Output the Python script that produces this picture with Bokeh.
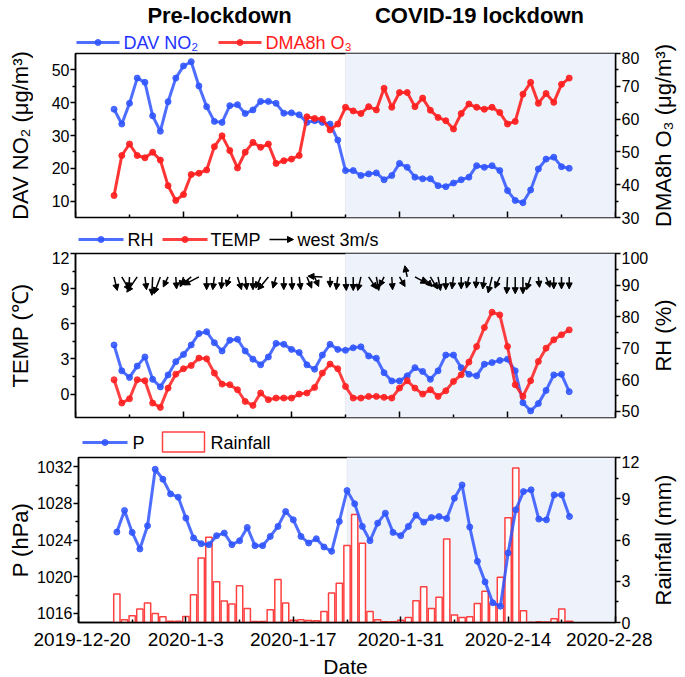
import math
from bokeh.plotting import figure
from bokeh.models import (Range1d, LinearAxis, FixedTicker, BoxAnnotation, Arrow, NormalHead,
                          ColumnDataSource)
from bokeh.core.properties import value
from bokeh.layouts import column, row
from bokeh.embed import file_html
from bokeh.resources import INLINE

FONT = "Liberation Sans"
BLUE = "#2f55ff"
RED = "#ff1f1f"
SHADE = "#eef2fb"

# ---------------- data ----------------
# x axis: days since 2019-12-20
tick_days = [0, 14, 28, 42, 56, 70]
minor_days = [7, 21, 35, 49, 63]
tick_labels = ["2019-12-20", "2020-1-3", "2020-1-17", "2020-1-31", "2020-2-14", "2020-2-28"]
lockdown_start = 35          # 2020-1-24
days = list(range(5, 65))    # 2019-12-25 ... 2020-2-22 (daily)

no2 = [38.0, 33.5, 39.8, 47.5, 46.2, 36.0, 31.3, 40.3, 47.5, 51.2, 52.5, 45.1, 38.8, 34.3, 34.0,
       39.1, 39.4, 36.7, 37.8, 40.4, 40.4, 39.8, 36.8, 36.9, 36.3, 34.0, 34.5, 34.0, 33.5, 28.6,
       19.3, 19.3, 17.8, 18.3, 18.6, 16.5, 17.8, 21.5, 20.3, 17.3, 16.8, 16.8, 14.7, 14.4, 15.5,
       16.5, 17.3, 20.8, 20.3, 20.8, 19.3, 13.2, 10.2, 9.5, 13.4, 19.8, 22.8, 23.4, 20.5, 20.0]
o3 = [36.7, 48.9, 52.4, 48.9, 48.2, 49.9, 47.5, 39.7, 35.2, 37.0, 43.1, 43.5, 44.5, 51.6, 54.9,
      50.4, 45.1, 49.9, 52.9, 51.4, 52.4, 46.5, 47.3, 47.8, 48.9, 60.7, 60.2, 60.0, 56.7, 58.5,
      63.6, 62.5, 61.7, 63.8, 62.8, 69.4, 63.6, 68.1, 68.1, 63.8, 66.4, 62.7, 60.5, 59.5, 57.0,
      61.7, 64.6, 63.6, 63.0, 63.6, 62.0, 58.5, 59.3, 67.6, 71.2, 64.8, 67.8, 65.1, 70.6, 72.5]
rh = [71.0, 62.8, 60.7, 64.3, 67.2, 60.1, 57.7, 61.5, 65.7, 68.0, 71.0, 74.6, 75.2, 71.7, 69.1,
      72.5, 72.8, 69.1, 66.5, 64.7, 67.2, 71.5, 71.2, 69.6, 68.6, 64.7, 63.3, 67.8, 71.2, 69.6,
      69.3, 70.1, 70.4, 67.5, 66.8, 62.2, 59.6, 59.6, 61.2, 63.8, 62.6, 60.1, 62.8, 67.8, 67.8,
      63.8, 61.7, 61.2, 64.9, 65.4, 66.1, 66.5, 62.8, 52.7, 50.1, 52.4, 56.6, 61.5, 61.7, 56.2]
temp = [1.22, -0.77, -0.40, 1.22, 1.14, -0.77, -1.14, 0.51, 1.70, 2.16, 2.44, 3.07, 3.01, 1.79, 0.85,
        0.80, 0.37, -0.63, -0.97, 0.09, -0.48, -0.34, -0.34, -0.34, 0.00, 0.09, 0.57, 1.79, 2.56, 2.16,
        0.65, -0.34, -0.34, -0.20, -0.20, -0.28, -0.34, 0.51, 1.14, 0.51, 0.00, 0.37, -0.20, 0.28, 1.08,
        1.65, 2.73, 4.06, 5.68, 6.99, 6.76, 4.06, 0.80, -0.20, 1.14, 2.78, 3.92, 4.63, 5.06, 5.48]
# wind components (m/s): u > 0 toward east, v > 0 toward north
wind_u = [0.4, 1.0, -0.1, -1.3, 0.2, -0.1, -0.8, -0.6, 0.1, -0.4, -1.25, -1.9, 0.0, -0.2, -0.1,
          -0.45, 0.5, 0.2, 0.0, -0.6, -1.3, -0.4, 0.0, 0.1, 0.2, 0.6, 0.5, -1.8, 0.0, -0.2,
          0.1, 0.0, -0.4, 1.0, 0.3, -0.6, 0.1, 0.7, -0.3, 1.5, 1.2, 0.9, 0.3, 0.0, -0.2,
          0.0, -0.3, -0.1, -0.2, -0.5, -0.6, -0.1, 0.0, 0.0, -0.5, 0.15, 0.5, 0.0, 0.0, 0.0]
wind_v = [-1.7, -1.7, -1.5, -1.9, -1.6, -2.3, -2.1, -1.25, -1.5, -1.25, -1.0, -1.0, -1.6, -1.6, -1.5,
          -1.2, -1.6, -1.6, -1.6, -1.4, -1.6, -1.4, -1.6, -1.6, -1.6, -1.4, -1.2, 0.1, -1.3, -1.6,
          -1.7, -1.7, -1.7, -1.5, -1.7, -1.2, -1.6, -1.2, 1.4, -0.8, -1.2, -1.5, -1.7, -1.6, -1.5,
          -1.5, -1.4, -1.4, -1.5, -2.0, -1.4, -2.1, -2.1, -2.1, -1.6, -1.3, -1.3, -1.5, -1.5, -1.5]
legend_wind_speed = 3.0      # "west 3m/s" reference arrow
pres = [1024.87, 1027.22, 1024.83, 1023.02, 1025.55, 1031.72, 1030.63, 1029.03, 1028.67, 1026.39,
        1024.22, 1023.60, 1023.49, 1024.47, 1024.76, 1023.49, 1023.92, 1025.37, 1023.38, 1023.38,
        1024.39, 1025.48, 1027.11, 1026.20, 1024.39, 1023.67, 1024.14, 1023.24, 1022.76, 1026.02,
        1029.39, 1027.95, 1025.48, 1023.92, 1025.84, 1026.93, 1024.83, 1024.47, 1025.48, 1026.71,
        1025.95, 1026.45, 1026.56, 1026.34, 1028.56, 1030.01, 1025.41, 1021.67, 1019.43, 1017.15,
        1016.78, 1022.59, 1027.29, 1029.28, 1029.47, 1026.28, 1026.20, 1028.92, 1028.92, 1026.56]
rain = [2.07, 0.20, 0.49, 0.98, 1.41, 0.66, 0.42, 0.10, 0.10, 0.44, 2.02, 4.70, 6.20, 2.97, 1.56,
        1.34, 2.68, 1.02, 0.07, 0.07, 0.92, 3.12, 1.41, 0.17, 0.20, 0.15, 0.12, 0.80, 2.15, 2.85,
        5.60, 7.86, 5.77, 0.80, 0.20, 0.05, 0.06, 0.17, 0.37, 1.58, 2.60, 1.02, 1.83, 6.08, 0.54,
        0.37, 0.42, 1.39, 2.27, 1.34, 3.29, 7.62, 11.24, 0.85, 0.02, 0.06, 0.03, 0.27, 0.98, 0.10]

# ---------------- layout constants (pixels) ----------------
FW = 540            # plot frame width
BL, BR = 42, 37     # left / right borders of the panels (tick marks + tick labels)
LW, RW = 33, 33     # side columns holding the rotated axis titles
MW = BL + FW + BR   # middle column width (619)
H0, H1, HS1, H2, HS2, H3, HS3 = 51, 174, 26, 168, 36, 199, 23
TOTAL_H = H0 + H1 + HS1 + H2 + HS2 + H3 + HS3   # 677
x_range = Range1d(0, 70)


def no_align(p):
    try:
        p.frame_align = False
    except Exception:
        pass
    return p


def blank(w, h, bl=0, br=0):
    s = figure(width=w, height=h, x_range=Range1d(0, w - bl - br), y_range=Range1d(0, h),
               output_backend="svg", toolbar_location=None,
               min_border_left=bl, min_border_right=br, min_border_top=0, min_border_bottom=0,
               x_axis_location=None, y_axis_location=None, outline_line_color=None)
    s.xgrid.visible = False
    s.ygrid.visible = False
    return no_align(s)


def txt(s, x, y, t, color="black", size="18px", bold=False, align="left", angle=0.0):
    s.text(x=[x], y=[y], text=[t], text_font=value(FONT), text_font_size=value(size),
           text_font_style="bold" if bold else "normal", text_color=color,
           text_align=align, text_baseline="middle", angle=angle)


def line_swatch(s, x0, x1, y, color):
    s.line([x0, x1], [y, y], line_color=color, line_width=3, line_alpha=0.85)
    s.scatter([(x0 + x1) / 2], [y], size=6, fill_color=color, line_color=color, alpha=0.85)


def style_axis(ax, tick_size="16px"):
    ax.axis_line_color = "black"
    ax.axis_line_width = 1.5
    ax.major_tick_line_color = "black"
    ax.major_tick_line_width = 1.5
    ax.minor_tick_line_color = "black"
    ax.minor_tick_line_width = 1.5
    ax.major_label_text_font = FONT
    ax.major_label_text_font_size = tick_size
    ax.major_label_text_color = "black"


def style_y(ax, ticks, minor):
    ax.ticker = FixedTicker(ticks=ticks, minor_ticks=minor)
    style_axis(ax)
    ax.major_tick_out = 5
    ax.major_tick_in = 0
    ax.minor_tick_out = 3
    ax.minor_tick_in = 0
    ax.major_label_standoff = 1


def make_panel(h, bottom, yr, show_x):
    p = figure(width=MW, height=h, x_range=x_range, y_range=yr,
               output_backend="svg", toolbar_location=None,
               min_border_left=BL, min_border_right=BR, min_border_top=2,
               min_border_bottom=bottom,
               x_axis_location="below" if show_x else None)
    no_align(p)
    p.xgrid.visible = False
    p.ygrid.visible = False
    p.outline_line_color = "black"
    p.outline_line_width = 1.5
    p.outline_line_alpha = 1
    p.add_layout(BoxAnnotation(left=lockdown_start, fill_color=SHADE, fill_alpha=1,
                               line_color="#cdd0da", line_width=1, level="underlay"))
    if show_x:
        ax = p.xaxis[0]
        ax.ticker = FixedTicker(ticks=tick_days, minor_ticks=minor_days)
        ax.major_label_overrides = {d: s for d, s in zip(tick_days, tick_labels)}
        style_axis(ax, tick_size="19px")
        ax.major_tick_in = 6
        ax.major_tick_out = 0
        ax.minor_tick_in = 3
        ax.minor_tick_out = 0
        ax.major_label_standoff = 10
    else:
        # inward tick marks on the bottom edge (same ticker positions as the date axis)
        ylo, yhi = yr.start, yr.end
        unit = (yhi - ylo) / 164.0
        p.segment(x0=tick_days, x1=tick_days, y0=[ylo] * len(tick_days),
                  y1=[ylo + 6 * unit] * len(tick_days), line_color="black", line_width=1.5)
        p.segment(x0=minor_days, x1=minor_days, y0=[ylo] * len(minor_days),
                  y1=[ylo + 3 * unit] * len(minor_days), line_color="black", line_width=1.5)
    return p


# ---------------- panel 1: NO2 / O3 ----------------
p1 = make_panel(H1, 8, Range1d(5, 55), False)
p1.extra_y_ranges = {"o3": Range1d(30, 80)}
style_y(p1.yaxis[0], [10, 20, 30, 40, 50], [15, 25, 35, 45])
r1 = LinearAxis(y_range_name="o3")
style_y(r1, [30, 40, 50, 60, 70, 80], [35, 45, 55, 65, 75])
p1.add_layout(r1, "right")
p1.line(days, no2, line_color=BLUE, line_width=3, line_alpha=0.85)
p1.scatter(days, no2, size=6, fill_color=BLUE, line_color=BLUE, alpha=0.85)
p1.line(days, o3, line_color=RED, line_width=3, line_alpha=0.9, y_range_name="o3")
p1.scatter(days, o3, size=6, fill_color=RED, line_color=RED, alpha=0.9, y_range_name="o3")

# ---------------- panel 2: TEMP / RH / wind ----------------
p2 = make_panel(H2, 2, Range1d(-2, 12), False)
p2.extra_y_ranges = {"rh": Range1d(48, 100)}
style_y(p2.yaxis[0], [0, 3, 6, 9, 12], [1.5, 4.5, 7.5, 10.5])
r2 = LinearAxis(y_range_name="rh")
style_y(r2, [50, 60, 70, 80, 90, 100], [55, 65, 75, 85, 95])
p2.add_layout(r2, "right")
p2.line(days, rh, line_color=BLUE, line_width=3, line_alpha=0.85, y_range_name="rh")
p2.scatter(days, rh, size=6, fill_color=BLUE, line_color=BLUE, alpha=0.85, y_range_name="rh")
p2.line(days, temp, line_color=RED, line_width=3, line_alpha=0.85)
p2.scatter(days, temp, size=6, fill_color=RED, line_color=RED, alpha=0.85)

# wind vectors: tails at TEMP = 10, 8 px per m/s
px_day = FW / 70.0
px_temp = 164 / 14.0
px_ms = 8.0
y_tail = 10.0
wsrc = ColumnDataSource(dict(
    x0=days, y0=[y_tail] * len(days),
    x1=[d + u * px_ms / px_day for d, u in zip(days, wind_u)],
    y1=[y_tail + v * px_ms / px_temp for v in wind_v]))
p2.add_layout(Arrow(end=NormalHead(size=6, fill_color="black", line_color="black", line_width=1),
                    x_start="x0", y_start="y0", x_end="x1", y_end="y1", source=wsrc,
                    line_color="black", line_width=1.5))

# ---------------- panel 3: P / Rainfall ----------------
p3 = make_panel(H3, 32, Range1d(1015, 1033), True)
p3.extra_y_ranges = {"rain": Range1d(0, 12)}
style_y(p3.yaxis[0], [1016, 1020, 1024, 1028, 1032], [1018, 1022, 1026, 1030])
r3 = LinearAxis(y_range_name="rain")
style_y(r3, [0, 3, 6, 9, 12], [1.5, 4.5, 7.5, 10.5])
p3.add_layout(r3, "right")
p3.vbar(x=days, top=rain, bottom=0, width=0.82, y_range_name="rain",
        fill_color="white", line_color="#ff4040", line_width=1.5)
p3.line(days, pres, line_color=BLUE, line_width=3, line_alpha=0.85)
p3.scatter(days, pres, size=6, fill_color=BLUE, line_color=BLUE, alpha=0.85)

# ---------------- strips: titles, legends, x title (x measured from frame left) ----------------
s0 = blank(MW, H0, BL, BR)
txt(s0, 144, 36, "Pre-lockdown", size="22px", bold=True, align="center")
txt(s0, 404, 36, "COVID-19 lockdown", size="22px", bold=True, align="center")
line_swatch(s0, 1, 44, 9, BLUE)
txt(s0, 48, 9, "DAV NO\u2082", color="#2233ff")
line_swatch(s0, 143, 186, 9, RED)
txt(s0, 190, 9, "DMA8h O\u2083", color="#ff1a1a")

s1 = blank(MW, HS1, BL, BR)
line_swatch(s1, 3, 48, 12, BLUE)
txt(s1, 52, 12, "RH")
line_swatch(s1, 87, 132, 12, RED)
txt(s1, 135, 12, "TEMP")
s1.add_layout(Arrow(end=NormalHead(size=6, fill_color="black", line_color="black", line_width=1),
                    x_start=194, y_start=12, x_end=194 + legend_wind_speed * px_ms, y_end=12,
                    line_color="black", line_width=1.5))
txt(s1, 222, 12, "west 3m/s")

s2 = blank(MW, HS2, BL, BR)
line_swatch(s2, 7, 52, 13, BLUE)
txt(s2, 57, 13, "P")
s2.quad(left=[87], right=[129], bottom=[3.5], top=[23.5], fill_color="white",
        line_color="#ff4040", line_width=1.5)
txt(s2, 135, 13, "Rainfall")

s3 = blank(MW, HS3, BL, BR)
txt(s3, FW / 2, 11.5, "Date", size="21px", align="center")

# ---------------- side columns: rotated axis titles ----------------
# panel frame centres measured from the page top
centres = [135, 335, 539.5]
lf = blank(LW, TOTAL_H)
rf = blank(RW, TOTAL_H)
for c, lt, rt in zip(centres,
                     ["DAV NO\u2082 (\u03bcg/m\u00b3)", "TEMP (\u2103)", "P (hPa)"],
                     ["DMA8h O\u2083 (\u03bcg/m\u00b3)", "RH (%)", "Rainfall (mm)"]):
    yy = TOTAL_H - c
    txt(lf, 20, yy, lt, size="22px", align="center", angle=math.pi / 2)
    txt(rf, 11, yy, rt, size="22px", align="center", angle=math.pi / 2)

middle = column(s0, p1, s1, p2, s2, p3, s3, spacing=0)
layout = row(lf, middle, rf, spacing=0)

open("out.html", "w").write(file_html(layout, INLINE))
